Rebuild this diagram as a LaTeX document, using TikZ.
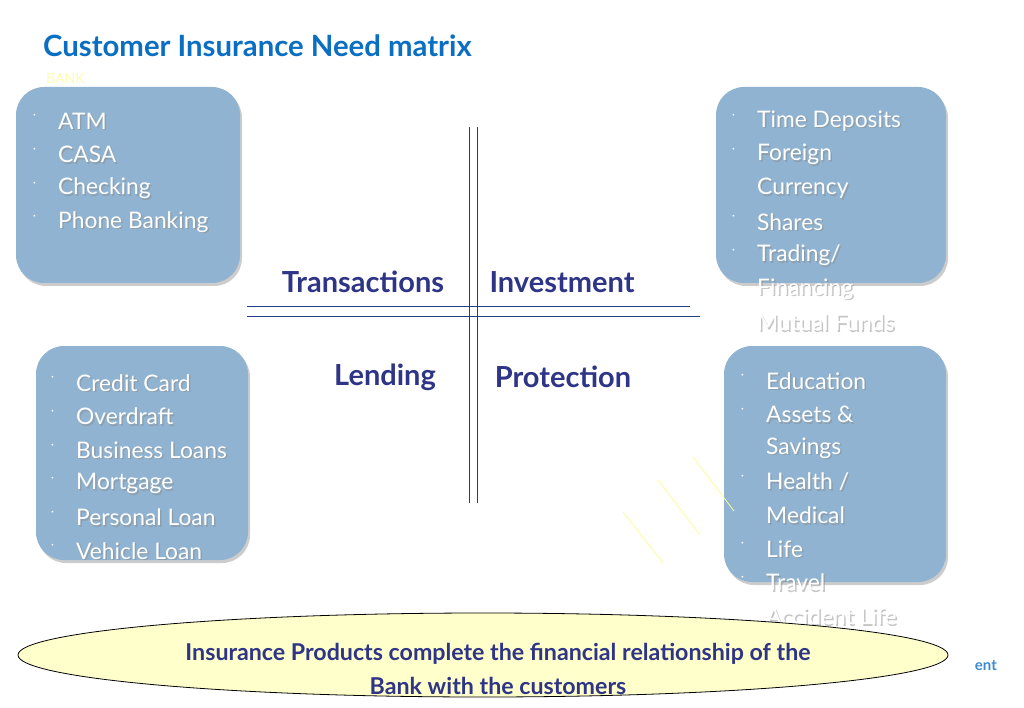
\documentclass[tikz,border=0pt]{standalone}
\usepackage{fontspec}
\setmainfont{Lato}
\usetikzlibrary{shadows}
\definecolor{boxblue}{HTML}{8FB3D1}
\definecolor{navy}{HTML}{2E3486}
\definecolor{titleblue}{HTML}{0A6FC2}
\definecolor{crossblue}{HTML}{1F3F82}
\definecolor{paleyellow}{HTML}{FFFFCC}

\begin{document}
\begin{tikzpicture}[
  x=1pt, y=-1pt,
  box/.style={fill=boxblue, rounded corners=28pt, inner sep=0pt,
    drop shadow={shadow xshift=2pt, shadow yshift=-3pt, opacity=0.4}},
  item/.style={anchor=west, inner sep=0pt, text=white, font=\fontsize{22.8}{26}\selectfont},
  dot/.style={anchor=west, inner sep=0pt, text=white, font=\fontsize{18}{20}\selectfont},
  quad/.style={font=\bfseries\fontsize{29}{32}\selectfont, text=navy, inner sep=0pt},
  cross/.style={draw=crossblue, line width=0.9pt},
  glint/.style={draw=yellow!40, line width=0.8pt}
]
  \useasboundingbox (0,0) rectangle (1024,708);

  % title
  \node[anchor=west, inner sep=0pt, text=titleblue, font=\bfseries\fontsize{29.3}{32}\selectfont]
    (title) at (43,46) {Customer Insurance Need matrix};
  \node[anchor=west, inner sep=0pt, text=yellow!30, font=\fontsize{14}{16}\selectfont]
    (bank) at (46,78) {BANK};

  % boxes
  \node[box, minimum width=224pt, minimum height=196pt] (trans) at (128,185) {};
  \node[box, minimum width=230pt, minimum height=196pt] (invest) at (831,185) {};
  \node[box, minimum width=212pt, minimum height=214pt] (lend) at (142,453) {};
  \node[box, minimum width=222pt, minimum height=236pt] (protect) at (835,464) {};

  % lists: flag 1 = bullet, 0 = continued line
  \foreach \bx/\by/\lst in {
      36/121/{1/ATM,1/CASA,1/Checking,1/Phone Banking},
      735/121/{1/Time Deposits,1/Foreign,0/Currency,1/Shares,1/{Trading/},0/Financing,1/Mutual Funds},
      54/383/{1/Credit Card,1/Overdraft,1/Business Loans,1/Mortgage,1/Personal Loan,1/Vehicle Loan},
      744/381/{1/Education,1/Assets \&,0/Savings,1/{Health /},0/Medical,1/Life,1/Travel,1/Accident Life}} {
    \foreach \b/\t [count=\i] in \lst {
      \pgfmathsetmacro\yy{\by+33.6*(\i-1)}
      \node[item, text=black!45, opacity=0.5] at (\bx+23.5,\yy+1.5) {\t};
      \node[item] at (\bx+22,\yy) {\t};
      \ifnum\b=1
        \node[dot] at (\bx-4,\yy-5) {$\cdot$};
      \fi
    }
  }

  % cross
  \coordinate (vt1) at (469,127); \coordinate (vb1) at (469,503);
  \coordinate (vt2) at (477,127); \coordinate (vb2) at (477,503);
  \coordinate (hl1) at (247,306); \coordinate (hr1) at (690,306);
  \coordinate (hl2) at (247,316); \coordinate (hr2) at (700,316);
  \draw[cross] (vt1) -- (vb1);
  \draw[cross] (vt2) -- (vb2);
  \draw[cross] (hl1) -- (hr1);
  \draw[cross] (hl2) -- (hr2);

  \node[quad] (qtrans) at (363,282) {Transactions};
  \node[quad] (qinvest) at (562,282) {Investment};
  \node[quad] (qlend) at (385,377) {Lending};
  \node[quad] (qprotect) at (563,377) {Protection};

  % faint glints
  \draw[glint] (663,563) -- (623,512);
  \draw[glint] (700,535) -- (658,480);
  \draw[glint] (734,511) -- (693,457);

  % footer
  \node[anchor=east, inner sep=0pt, text=titleblue!80, font=\bfseries\fontsize{15}{17}\selectfont]
    (foot) at (997,666) {ent};
  \draw[fill=paleyellow, draw=black, line width=0.8pt] (483,655) ellipse [x radius=465, y radius=42];
  \node[align=center, text=navy, font=\bfseries\fontsize{23.2}{34}\selectfont] (msg) at (498,669)
    {Insurance Products complete the financial relationship of the\\Bank with the customers};
\end{tikzpicture}
\end{document}
